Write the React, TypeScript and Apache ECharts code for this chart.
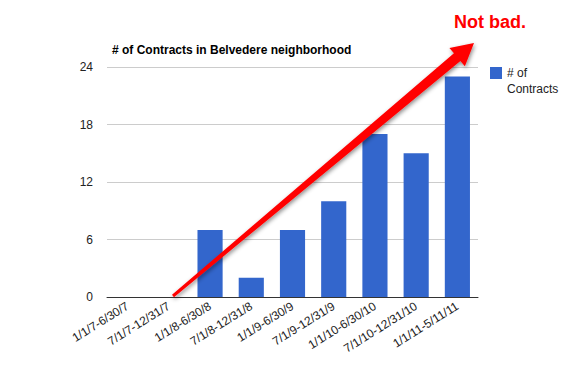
import React, { useEffect, useRef } from "react";
import * as echarts from "echarts";

const categories = [
  "1/1/7-6/30/7",
  "7/1/7-12/31/7",
  "1/1/8-6/30/8",
  "7/1/8-12/31/8",
  "1/1/9-6/30/9",
  "7/1/9-12/31/9",
  "1/1/10-6/30/10",
  "7/1/10-12/31/10",
  "1/1/11-5/11/11",
];
const contracts = [0, 0, 7, 2, 7, 10, 17, 15, 23];
const yTicks = [0, 6, 12, 18, 24];
const seriesName = "# of Contracts";
const titleText = "# of Contracts in Belvedere neighborhood";
const noteText = "Not bad.";

const FONT = "Arial, 'Liberation Sans', Helvetica, sans-serif";

function arrowPoints(sx: number, sy: number, tx: number, ty: number) {
  const dx = tx - sx;
  const dy = ty - sy;
  const len = Math.sqrt(dx * dx + dy * dy);
  const ux = dx / len;
  const uy = dy / len;
  const nx = -uy;
  const ny = ux;
  const headLen = 22;
  const headHalf = 12;
  const startHalf = 1.5;
  const baseHalf = 5;
  const bx = tx - ux * headLen;
  const by = ty - uy * headLen;
  return [
    [sx + nx * startHalf, sy + ny * startHalf],
    [bx + nx * baseHalf, by + ny * baseHalf],
    [bx + nx * headHalf, by + ny * headHalf],
    [tx, ty],
    [bx - nx * headHalf, by - ny * headHalf],
    [bx - nx * baseHalf, by - ny * baseHalf],
    [sx - nx * startHalf, sy - ny * startHalf],
  ];
}

export default function App() {
  const ref = useRef<HTMLDivElement>(null);
  useEffect(() => {
    if (!ref.current) return;
    const chart = echarts.init(ref.current, null, { renderer: "svg" });
    chart.setOption({
      animation: false,
      backgroundColor: "#ffffff",
      title: {
        text: titleText,
        left: 107,
        top: 39,
        textStyle: { fontFamily: FONT, fontSize: 12, fontWeight: "bold", color: "#000" },
      },
      grid: { left: 107, right: 96, top: 67, bottom: 68, containLabel: false },
      xAxis: {
        type: "category",
        data: categories,
        axisLine: { show: true, lineStyle: { color: "#333", width: 1 } },
        axisTick: { show: false },
        axisLabel: {
          rotate: 32,
          margin: 8,
          interval: 0,
          fontFamily: FONT,
          fontSize: 12,
          color: "#222",
        },
      },
      yAxis: {
        type: "value",
        min: yTicks[0],
        max: yTicks[yTicks.length - 1],
        interval: yTicks[1] - yTicks[0],
        axisLine: { show: false },
        axisTick: { show: false },
        splitLine: { lineStyle: { color: "#cccccc", width: 1 } },
        axisLabel: { margin: 14, fontFamily: FONT, fontSize: 12, color: "#222" },
      },
      series: [
        {
          name: seriesName,
          type: "bar",
          data: contracts,
          barWidth: "61%",
          itemStyle: { color: "#3366cc" },
        },
      ],
      graphic: [
        {
          type: "rect",
          shape: { x: 490, y: 67, width: 12, height: 12 },
          style: { fill: "#3366cc" },
        },
        {
          type: "text",
          x: 507,
          y: 65,
          style: {
            text: "# of\nContracts",
            font: `12px ${FONT}`,
            lineHeight: 16,
            fill: "#222",
          },
        },
        {
          type: "polygon",
          shape: { points: arrowPoints(173, 296, 474, 43) },
          style: {
            fill: "#ff0000",
            shadowBlur: 4,
            shadowColor: "rgba(0,0,0,0.45)",
            shadowOffsetX: 1,
            shadowOffsetY: 2,
          },
          z: 100,
        },
        {
          type: "text",
          x: 490,
          y: 22,
          style: {
            text: noteText,
            font: `bold 18px ${FONT}`,
            fill: "#ff0000",
            stroke: "#ffffff",
            lineWidth: 3,
            align: "center",
            verticalAlign: "middle",
            shadowBlur: 3,
            shadowColor: "rgba(0,0,0,0.5)",
            shadowOffsetX: 1,
            shadowOffsetY: 1,
          },
          z: 100,
        },
      ],
    });
    return () => chart.dispose();
  }, []);
  return (
    <div
      ref={ref}
      style={{ position: "absolute", left: 0, top: 0, width: 574, height: 365 }}
    />
  );
}
